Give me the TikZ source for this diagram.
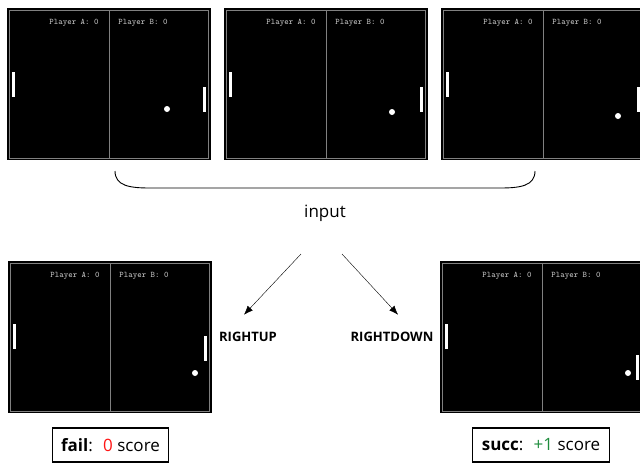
\documentclass[tikz,border=0pt]{standalone}
\usepackage{fontspec}
\setmainfont{Open Sans}
\usepackage{tikz}
\usetikzlibrary{arrows,arrows.meta,positioning}
\usepackage{xcolor}
\definecolor{pggray}{RGB}{128,128,128}
\definecolor{pgtext}{RGB}{200,200,200}
\definecolor{pgred}{RGB}{255,20,20}
\definecolor{pggreen}{RGB}{30,140,60}
\tikzstyle{arrow} = [thin,-{Latex[length=9pt,width=7pt]},color=black]
\tikzstyle{scorebox} = [draw,line width=1.1pt,inner xsep=9pt,minimum height=34pt,font=\fontsize{17}{20}\selectfont]
\tikzstyle{actlabel} = [font=\fontsize{13}{15}\selectfont\bfseries]
\tikzstyle{paddle} = [fill=white]
\tikzstyle{score} = [font=\ttfamily\fontsize{8.5}{9}\selectfont, text=pgtext]
% one pong screen: x, y, left paddle top, right paddle top, ball x, ball y, name
\newcommand{\pongscreen}[7]{
  \begin{scope}[shift={(#1,#2)}]
    \fill[black] (0,0) rectangle (204,152);
    \draw[pggray, line width=0.8pt] (2.5,2.5) rectangle (201.5,150.5);
    \draw[pggray, line width=0.8pt] (102,2.5) -- (102,150.5);
    \node[score] (#7a) at (67,15) {Player A: 0};
    \node[score] (#7b) at (136,15) {Player B: 0};
    \fill[paddle] (5,#3) rectangle (8,#3+25);
    \fill[paddle] (196,#4) rectangle (199,#4+25);
    \fill[white] (#5,#6) circle (3);
  \end{scope}
}

\begin{document}
\begin{tikzpicture}[x=1pt, y=-1pt]
    \useasboundingbox (0,0) rectangle (640,464);

    % Input frames
    \pongscreen{7}{8}{64}{79}{160}{101}{sa}
    \pongscreen{224}{8}{64}{79}{168}{104}{sb}
    \pongscreen{441}{8}{64}{79}{177}{108}{sc}

    % Bracket
    \draw[line width=0.9pt] (115,171) .. controls (115,186) and (130,188) .. (150,188)
        -- (500,188) .. controls (520,188) and (535,186) .. (535,171);
    \node[font=\fontsize{17}{20}\selectfont] (input) at (325,213) {input};

    % Actions
    \node[actlabel] (rightup) at (248,337) {RIGHTUP};
    \node[actlabel] (rightdown) at (392,337) {RIGHTDOWN};
    \coordinate (upstart) at (301,254);
    \coordinate (downstart) at (342,254);
    \draw[arrow] (upstart) -- ([xshift=-4pt,yshift=14pt]rightup.north);
    \draw[arrow] (downstart) -- ([xshift=6pt,yshift=14pt]rightdown.north);

    % Results
    \pongscreen{8}{261}{63}{75}{187}{112}{fa}
    \pongscreen{440}{261}{63}{94}{188}{112}{su}
    \node[scorebox] (fail) at (110.5,445) {\textbf{fail}:~ \textcolor{pgred}{0} score};
    \node[scorebox] (succ) at (541,445) {\textbf{succ}:~ \textcolor{pggreen}{+1} score};
\end{tikzpicture}
\end{document}
